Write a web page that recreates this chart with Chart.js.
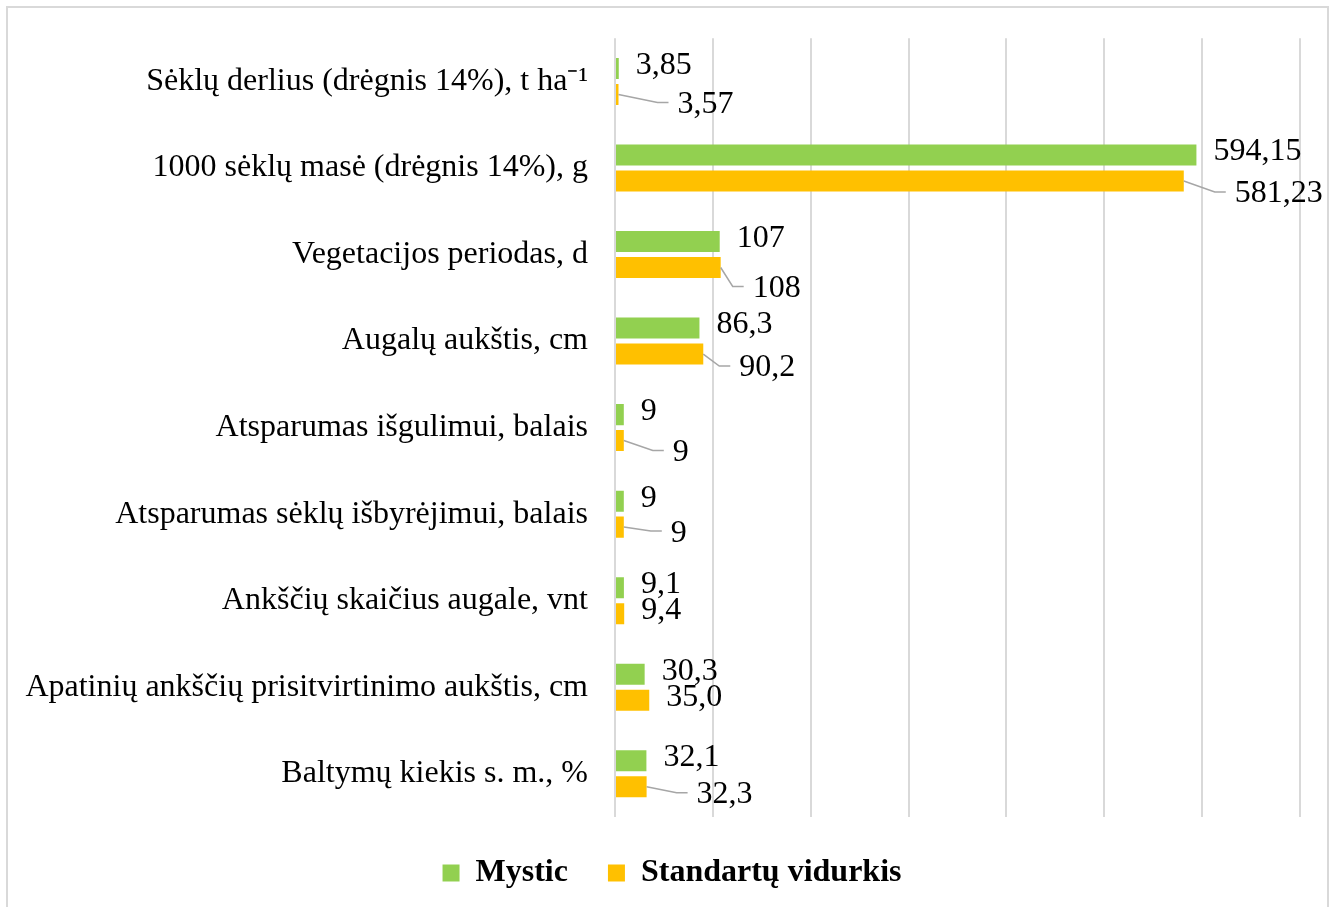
<!DOCTYPE html>
<html>
<head>
<meta charset="utf-8">
<script src="https://cdn.jsdelivr.net/npm/chart.js@4"></script>
<style>
  html, body { margin: 0; padding: 0; background: #fff; overflow: hidden; }
  #wrap { position: relative; width: 1341px; height: 907px; }
  #frame { position: absolute; left: 6px; top: 6px; width: 1323px; height: 920px; border: 2px solid #d9d9d9; box-sizing: border-box; pointer-events: none; }
</style>
</head>
<body>
<div id="wrap">
  <canvas id="traitsChart"></canvas>
  <div id="frame"></div>
</div>
<script>
// Mystic vs. standard varieties, per trait
const traits = [
    'Sėklų derlius (drėgnis 14%), t ha⁻¹',
    '1000 sėklų masė (drėgnis 14%), g',
    'Vegetacijos periodas, d',
    'Augalų aukštis, cm',
    'Atsparumas išgulimui, balais',
    'Atsparumas sėklų išbyrėjimui, balais',
    'Ankščių skaičius augale, vnt',
    'Apatinių ankščių prisitvirtinimo aukštis, cm',
    'Baltymų kiekis s. m., %'
];
const mysticValues = [3.85, 594.15, 107, 86.3, 9, 9, 9.1, 30.3, 32.1];
const standardValues = [3.57, 581.23, 108, 90.2, 9, 9, 9.4, 35.0, 32.3];
// decimals shown in the value labels, per trait
const decimals = [2, 2, 0, 1, 0, 0, 1, 1, 1];
const xTicks = [0, 100, 200, 300, 400, 500, 600, 700];

const serif = '"Liberation Serif", "Times New Roman", serif';

function fmt(v, d) {
    return v.toFixed(d).replace('.', ',');
}

// draws the value next to each bar; moved labels get a leader line back to the bar
const valueLabels = {
    id: 'valueLabels',
    afterDatasetsDraw(chart, args, opts) {
        const ctx = chart.ctx;
        ctx.save();
        ctx.font = '32px ' + serif;
        ctx.textAlign = 'left';
        ctx.textBaseline = 'middle';
        chart.data.datasets.forEach((ds, di) => {
            const meta = chart.getDatasetMeta(di);
            const shifts = opts.shifts[di] || [];
            meta.data.forEach((bar, i) => {
                const s = shifts[i] || [0, 0];
                const x = bar.x + 17 + s[0];
                const y = bar.y - 3 + s[1];
                if (s[0] || s[1]) {
                    ctx.beginPath();
                    ctx.strokeStyle = '#a6a6a6';
                    ctx.lineWidth = 1.5;
                    ctx.moveTo(bar.x, bar.y);
                    ctx.lineTo(x - 20, y - 2);
                    ctx.lineTo(x - 9, y - 2);
                    ctx.stroke();
                }
                ctx.fillStyle = '#000';
                ctx.fillText(fmt(ds.data[i], decimals[i]), x, y);
            });
        });
        ctx.restore();
    }
};

// nudges the legend block sideways so it sits centred under the whole frame
const legendShift = {
    id: 'legendShift',
    afterLayout(chart, args, opts) {
        if (chart.legend) {
            chart.legend.left += opts.dx;
            chart.legend.right += opts.dx;
        }
    }
};

new Chart(document.getElementById('traitsChart'), {
    type: 'bar',
    data: {
        labels: traits,
        datasets: [{
            label: 'Mystic',
            data: mysticValues,
            backgroundColor: '#92d050'
        }, {
            label: 'Standartų vidurkis',
            data: standardValues,
            backgroundColor: '#ffc000'
        }]
    },
    options: {
        indexAxis: 'y',
        responsive: true,
        maintainAspectRatio: false,
        animation: false,
        categoryPercentage: 0.6,
        barPercentage: 0.81,
        layout: { padding: { top: 26, right: 41, bottom: 8, left: 0 } },
        scales: {
            x: {
                min: xTicks[0],
                max: xTicks[xTicks.length - 1],
                afterBuildTicks: (scale) => { scale.ticks = xTicks.map(v => ({ value: v })); },
                ticks: { display: false },
                grid: { color: '#d9d9d9', lineWidth: 2, drawTicks: false },
                border: { display: false }
            },
            y: {
                afterFit: (scale) => { scale.width = 615; },
                ticks: { color: '#000', font: { family: serif, size: 32 }, padding: 19 },
                grid: { display: false },
                border: { display: false }
            }
        },
        plugins: {
            legend: {
                position: 'bottom',
                labels: {
                    color: '#000',
                    font: { family: serif, size: 32, weight: 'bold' },
                    boxWidth: 17,
                    boxHeight: 17,
                    padding: 40
                }
            },
            legendShift: { dx: 22 },
            tooltip: { enabled: false },
            valueLabels: {
                shifts: [
                    [],
                    [[42, 13], [34, 16], [15, 24], [19, 17], [32, 15], [30, 9], [0, 0], [0, 0], [33, 11]]
                ]
            }
        }
    },
    plugins: [valueLabels, legendShift]
});
</script>
</body>
</html>
